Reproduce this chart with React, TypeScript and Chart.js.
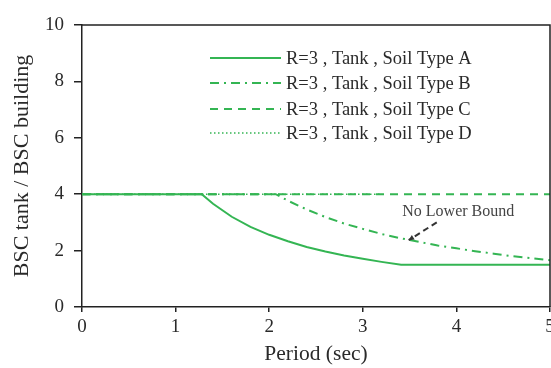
import React, { useEffect, useRef } from "react";
import { Chart, registerables } from "chart.js";

Chart.register(...registerables);

// ---- data ----
const periodA = [0, 1.28, 1.4, 1.6, 1.8, 2.0, 2.2, 2.4, 2.6, 2.8, 3.0, 3.2, 3.41, 4.0, 5.0];
const valueA = [4, 4, 3.66, 3.2, 2.84, 2.56, 2.33, 2.13, 1.97, 1.83, 1.71, 1.6, 1.5, 1.5, 1.5];

const periodB = [0, 2.07, 2.2, 2.4, 2.6, 2.8, 3.0, 3.2, 3.4, 3.6, 3.8, 4.0, 4.2, 4.4, 4.6, 4.8, 5.0];
const valueB = [4, 4, 3.77, 3.46, 3.19, 2.96, 2.77, 2.59, 2.44, 2.31, 2.18, 2.08, 1.98, 1.89, 1.8, 1.73, 1.66];

const periodC = [0, 5];
const valueC = [4, 4];

const periodD = [0, 3.2];
const valueD = [4, 4];

const seriesLabels = [
  "R=3 , Tank , Soil Type A",
  "R=3 , Tank , Soil Type B",
  "R=3 , Tank , Soil Type C",
  "R=3 , Tank , Soil Type D",
];

const xTicks = [0, 1, 2, 3, 4, 5];
const yTicks = [0, 2, 4, 6, 8, 10];

const annotationText = "No Lower Bound";
const annotationTextPos = [4.02, 3.37];
const arrowFrom = [3.79, 3.0];
const arrowTo = [3.49, 2.37];

const GREEN = "#34b553";
const AXIS = "#222222";
const FONT = "'Liberation Serif', 'Times New Roman', serif";

const toPts = (xs: number[], ys: number[]) => xs.map((x, i) => ({ x, y: ys[i] }));

const dashes: number[][] = [[], [9, 5, 2, 5], [8, 6], [1.5, 2.5]];

const boxAndExtras = {
  id: "boxAndExtras",
  afterDraw(chart: any) {
    const { ctx, chartArea } = chart;
    const xs = chart.scales.x;
    const ys = chart.scales.y;
    ctx.save();
    // top and right frame lines
    ctx.strokeStyle = AXIS;
    ctx.lineWidth = 1.5;
    ctx.beginPath();
    ctx.moveTo(chartArea.left, chartArea.top);
    ctx.lineTo(chartArea.right, chartArea.top);
    ctx.lineTo(chartArea.right, chartArea.bottom);
    ctx.stroke();

    // legend
    const legendY = [58, 83, 109, 133];
    chart.data.datasets.forEach((ds: any, i: number) => {
      ctx.strokeStyle = ds.borderColor;
      ctx.lineWidth = ds.borderWidth;
      ctx.setLineDash(ds.borderDash || []);
      ctx.beginPath();
      ctx.moveTo(210, legendY[i]);
      ctx.lineTo(281, legendY[i]);
      ctx.stroke();
      ctx.setLineDash([]);
      ctx.fillStyle = "#2a2a2a";
      ctx.font = `18.5px ${FONT}`;
      ctx.textAlign = "left";
      ctx.textBaseline = "middle";
      ctx.fillText(ds.label, 286, legendY[i] + 1);
    });

    // annotation
    ctx.fillStyle = "#444444";
    ctx.font = `16px ${FONT}`;
    ctx.textAlign = "center";
    ctx.textBaseline = "middle";
    ctx.fillText(
      annotationText,
      xs.getPixelForValue(annotationTextPos[0]),
      ys.getPixelForValue(annotationTextPos[1])
    );
    const x1 = xs.getPixelForValue(arrowFrom[0]);
    const y1 = ys.getPixelForValue(arrowFrom[1]);
    const x2 = xs.getPixelForValue(arrowTo[0]);
    const y2 = ys.getPixelForValue(arrowTo[1]);
    ctx.strokeStyle = "#333333";
    ctx.lineWidth = 2;
    ctx.setLineDash([6, 4]);
    ctx.beginPath();
    ctx.moveTo(x1, y1);
    ctx.lineTo(x2, y2);
    ctx.stroke();
    ctx.setLineDash([]);
    const ang = Math.atan2(y2 - y1, x2 - x1);
    ctx.fillStyle = "#333333";
    ctx.beginPath();
    ctx.moveTo(x2, y2);
    ctx.lineTo(x2 - 6 * Math.cos(ang - 0.45), y2 - 6 * Math.sin(ang - 0.45));
    ctx.lineTo(x2 - 6 * Math.cos(ang + 0.45), y2 - 6 * Math.sin(ang + 0.45));
    ctx.closePath();
    ctx.fill();
    ctx.restore();
  },
};

export default function App() {
  const ref = useRef<HTMLCanvasElement | null>(null);

  useEffect(() => {
    document.body.style.margin = "0";
    if (!ref.current) return;
    const series = [
      toPts(periodA, valueA),
      toPts(periodB, valueB),
      toPts(periodC, valueC),
      toPts(periodD, valueD),
    ];
    const chart = new Chart(ref.current, {
      type: "line",
      data: {
        datasets: series.map((d, i) => ({
          label: seriesLabels[i],
          data: d,
          borderColor: GREEN,
          backgroundColor: GREEN,
          borderWidth: i === 3 ? 1.5 : 2,
          borderDash: dashes[i],
          pointRadius: 0,
          tension: 0,
          fill: false,
          order: 3 - i,
        })),
      },
      options: {
        animation: false,
        responsive: true,
        maintainAspectRatio: false,
        layout: { padding: { top: 25, right: 1, left: 0, bottom: 0 } },
        plugins: { legend: { display: false }, tooltip: { enabled: false } },
        scales: {
          x: {
            type: "linear",
            min: 0,
            max: 5,
            afterBuildTicks: (s: any) => {
              s.ticks = xTicks.map((v) => ({ value: v }));
            },
            afterFit: (s: any) => {
              s.height = 61;
              s.paddingLeft = 0;
              s.paddingRight = 0;
            },
            ticks: {
              color: "#2a2a2a",
              font: { family: FONT, size: 19 },
              padding: 4,
              maxRotation: 0,
            },
            grid: { drawOnChartArea: false, drawTicks: true, tickLength: 5, color: AXIS, lineWidth: 1.5 },
            border: { display: true, color: AXIS, width: 1.5 },
            title: {
              display: true,
              text: "Period (sec)",
              color: "#2a2a2a",
              font: { family: FONT, size: 21.5 },
              padding: { top: 0, bottom: 1 },
            },
          },
          y: {
            type: "linear",
            min: 0,
            max: 10,
            afterBuildTicks: (s: any) => {
              s.ticks = yTicks.map((v) => ({ value: v }));
            },
            afterFit: (s: any) => {
              s.width = 82;
              s.paddingTop = 0;
              s.paddingBottom = 0;
            },
            ticks: {
              color: "#2a2a2a",
              font: { family: FONT, size: 19 },
              padding: 10,
            },
            grid: { drawOnChartArea: false, drawTicks: true, tickLength: 8, color: AXIS, lineWidth: 1.5 },
            border: { display: true, color: AXIS, width: 1.5 },
            title: {
              display: true,
              text: "BSC tank / BSC building",
              color: "#2a2a2a",
              font: { family: FONT, size: 22 },
              padding: { top: 9, bottom: 0 },
            },
          },
        },
      },
      plugins: [boxAndExtras],
    } as any);
    return () => chart.destroy();
  }, []);

  return (
    <div style={{ position: "absolute", left: 0, top: 0, width: 551, height: 368 }}>
      <canvas ref={ref} />
    </div>
  );
}
